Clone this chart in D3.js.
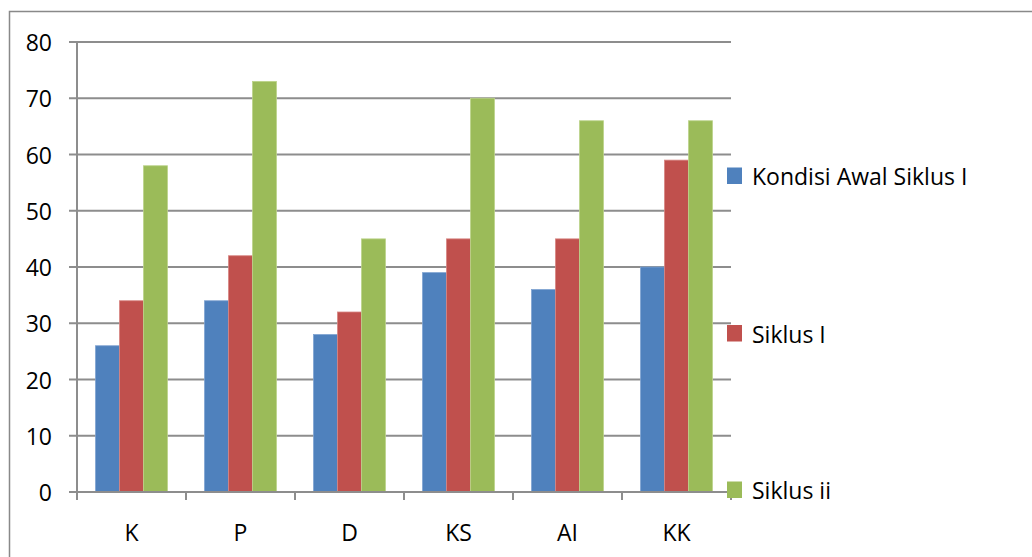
<!DOCTYPE html>
<html><head><meta charset="utf-8">
<script src="https://cdn.jsdelivr.net/npm/d3@7"></script>
<style>html,body{margin:0;padding:0;background:#fff;}svg{display:block;font-family:"Open Sans",sans-serif;}</style>
</head><body>
<svg id="c" width="1032" height="557"></svg>
<script>
const categories = ["K","P","D","KS","AI","KK"];
const seriesNames = ["Kondisi Awal Siklus I","Siklus I","Siklus ii"];
const kondisiAwal = [26,34,28,39,36,40];
const siklusI = [34,42,32,45,45,59];
const siklusII = [58,73,45,70,66,66];
const yTicks = [0,10,20,30,40,50,60,70,80];
const colors = ["#4F81BD","#C0504D","#9BBB59"];
const edge = ["#7fa3d1","#d88583","#bcd38a"];

const series = [kondisiAwal, siklusI, siklusII];
const svg = d3.select("#c");
const L = 77, R = 731, T = 42, B = 492;

svg.append("rect").attr("x",9.5).attr("y",11.5).attr("width",1100).attr("height",700)
  .attr("fill","none").attr("stroke","#898989").attr("stroke-width",1.5);

const x = d3.scaleBand().domain(categories).range([L,R]).paddingInner(0).paddingOuter(0);
const y = d3.scaleLinear().domain([0,80]).range([B,T]);
const bw = x.bandwidth()*24/109;
const x1 = d3.scaleBand().domain([0,1,2]).range([0,bw*3]);

// gridlines
svg.append("g").selectAll("line").data(yTicks).join("line")
  .attr("x1",L-8).attr("x2",R).attr("y1",d=>y(d)).attr("y2",d=>y(d))
  .attr("stroke","#8d8d8d").attr("stroke-width",2);

// y labels
svg.append("g").selectAll("text").data(yTicks).join("text")
  .attr("x",52).attr("y",d=>y(d)+9).attr("text-anchor","end")
  .attr("font-size",23).attr("fill","#000").text(d=>d);

// bars
categories.forEach((c,i)=>{
  const off = x(c) + (x.bandwidth()-bw*3)/2;
  series.forEach((s,j)=>{
    svg.append("rect").attr("x",off+x1(j)).attr("y",y(s[i])).attr("width",bw)
      .attr("height",B-y(s[i])).attr("fill",colors[j])
      .attr("stroke",edge[j]).attr("stroke-width",0.8);
  });
});

// axes lines
svg.append("line").attr("x1",L).attr("x2",L).attr("y1",T).attr("y2",B+8)
  .attr("stroke","#8d8d8d").attr("stroke-width",2);
svg.append("line").attr("x1",L-8).attr("x2",R).attr("y1",B).attr("y2",B)
  .attr("stroke","#8d8d8d").attr("stroke-width",2);
const tickXs = categories.map(c=>x(c)).concat([R]);
svg.append("g").selectAll("line").data(tickXs).join("line")
  .attr("x1",d=>d).attr("x2",d=>d).attr("y1",B).attr("y2",B+8)
  .attr("stroke","#8d8d8d").attr("stroke-width",2);

// category labels
svg.append("g").selectAll("text").data(categories).join("text")
  .attr("x",d=>x(d)+x.bandwidth()/2).attr("y",541).attr("text-anchor","middle")
  .attr("font-size",23).attr("fill","#000").text(d=>d);

// legend
const legY = [185,342.5,499];
seriesNames.forEach((n,j)=>{
  svg.append("rect").attr("x",727).attr("y",legY[j]-17.5).attr("width",15).attr("height",16.5)
    .attr("fill",colors[j]);
  svg.append("text").attr("x",752).attr("y",legY[j]).attr("font-size",23)
    .attr("fill","#000").text(n);
});
</script>
</body></html>
